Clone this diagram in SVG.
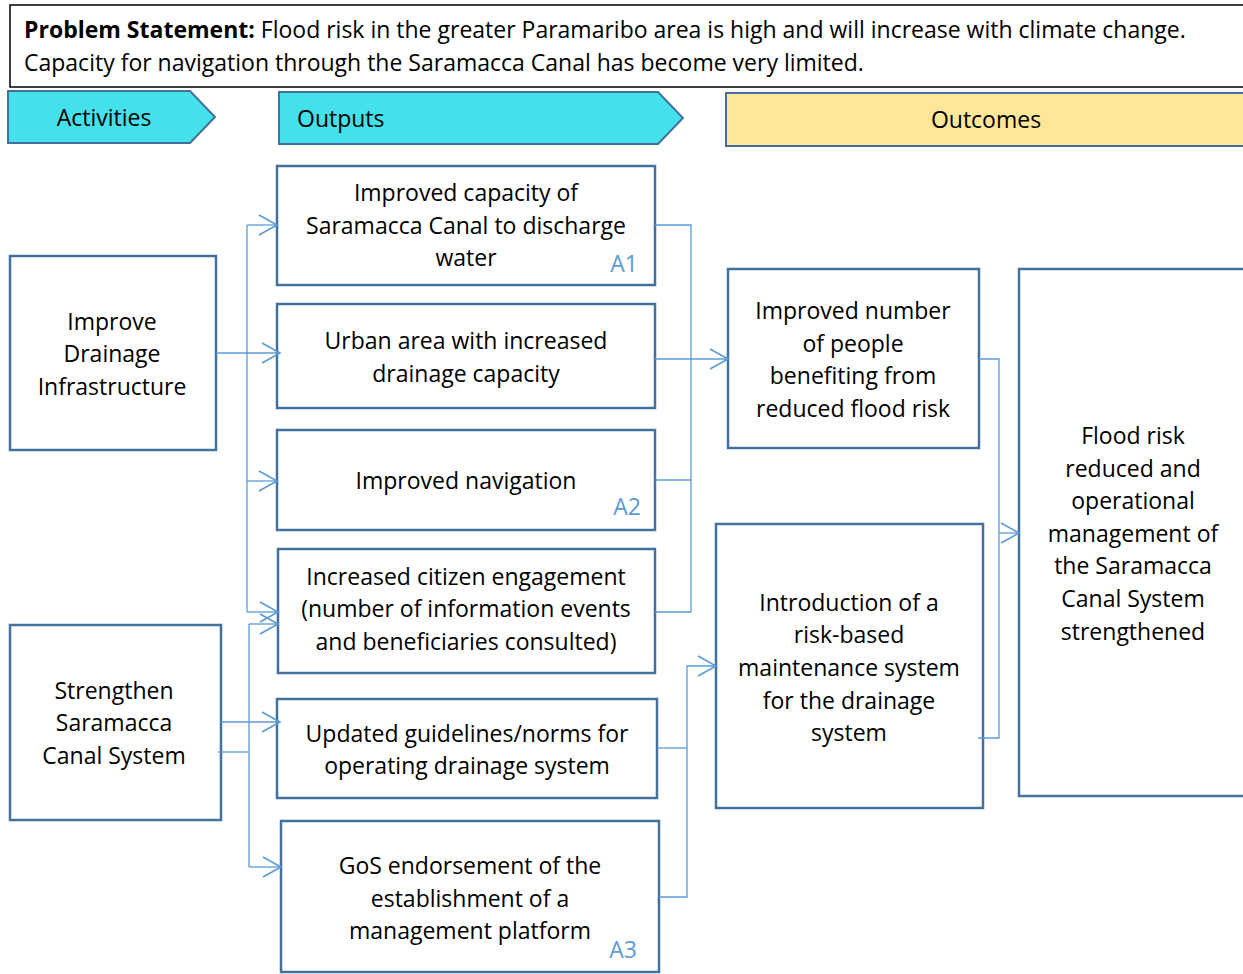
<svg xmlns="http://www.w3.org/2000/svg" width="1243" height="974" viewBox="0 0 1243 974">
  <style>
    text { font-family: "Open Sans", "Liberation Sans", Arial, sans-serif; font-size: 23px; fill: #000; }
    .c { text-anchor: middle; }
    .tag { fill: #5B9BD5; text-anchor: end; }
    .box { fill: #fff; stroke: #41719C; stroke-width: 2.5; }
    .band { fill: #45E1EB; stroke: #41719C; stroke-width: 2; }
    .link { fill: none; stroke: #5B9BD5; stroke-width: 1.3; }
  </style>
  <defs>
    <marker id="open" markerUnits="userSpaceOnUse" markerWidth="24" markerHeight="24" viewBox="-20 -12 24 24" refX="0" refY="0" orient="auto">
      <path d="M-18,-10 L0,0 L-18,10" fill="none" stroke="#5B9BD5" stroke-width="1.6"/>
    </marker>
  </defs>
  <rect width="1243" height="974" fill="#fff"/>

  <!-- header -->
  <g id="problem">
    <rect x="10" y="5" width="1240" height="82" fill="#fff" stroke="#000" stroke-width="1.5"/>
    <text x="24" y="38"><tspan font-weight="bold">Problem Statement:</tspan> Flood risk in the greater Paramaribo area is high and will increase with climate change.</text>
    <text x="24" y="71">Capacity for navigation through the Saramacca Canal has become very limited.</text>
  </g>
  <g id="hdr-activities">
    <path class="band" d="M8,91 H190 L215,117 L190,143 H8 Z"/>
    <text class="c" x="104" y="126">Activities</text>
  </g>
  <g id="hdr-outputs">
    <path class="band" d="M279,92 H658 L683,118 L658,144 H279 Z"/>
    <text x="297" y="127">Outputs</text>
  </g>
  <g id="hdr-outcomes">
    <rect x="726" y="93" width="530" height="53" fill="#FFE699" stroke="#41719C" stroke-width="2"/>
    <text class="c" x="986" y="128">Outcomes</text>
  </g>

  <!-- activities -->
  <g id="act-drainage">
    <rect class="box" x="10" y="256" width="206" height="194"/>
    <text class="c" x="112" y="330">Improve</text>
    <text class="c" x="112" y="362">Drainage</text>
    <text class="c" x="112" y="395">Infrastructure</text>
  </g>
  <g id="act-canal">
    <rect class="box" x="10" y="625" width="211" height="195"/>
    <text class="c" x="114" y="699">Strengthen</text>
    <text class="c" x="114" y="731">Saramacca</text>
    <text class="c" x="114" y="764">Canal System</text>
  </g>

  <!-- outputs -->
  <g id="out-discharge">
    <rect class="box" x="277" y="166" width="378" height="119"/>
    <text class="c" x="466" y="201">Improved capacity of</text>
    <text class="c" x="466" y="234">Saramacca Canal to discharge</text>
    <text class="c" x="466" y="266">water</text>
    <text class="tag" x="638" y="272">A1</text>
  </g>
  <g id="out-urban">
    <rect class="box" x="277" y="304" width="378" height="104"/>
    <text class="c" x="466" y="349">Urban area with increased</text>
    <text class="c" x="466" y="382">drainage capacity</text>
  </g>
  <g id="out-navigation">
    <rect class="box" x="277" y="430" width="378" height="100"/>
    <text class="c" x="466" y="489">Improved navigation</text>
    <text class="tag" x="641" y="515">A2</text>
  </g>
  <g id="out-engagement">
    <rect class="box" x="278" y="549" width="377" height="124"/>
    <text class="c" x="466" y="585">Increased citizen engagement</text>
    <text class="c" x="466" y="617">(number of information events</text>
    <text class="c" x="466" y="650">and beneficiaries consulted)</text>
  </g>
  <g id="out-guidelines">
    <rect class="box" x="277" y="699" width="380" height="99"/>
    <text class="c" x="467" y="742">Updated guidelines/norms for</text>
    <text class="c" x="467" y="774">operating drainage system</text>
  </g>
  <g id="out-platform">
    <rect class="box" x="281" y="821" width="378" height="151"/>
    <text class="c" x="470" y="874">GoS endorsement of the</text>
    <text class="c" x="470" y="907">establishment of a</text>
    <text class="c" x="470" y="939">management platform</text>
    <text class="tag" x="637" y="958">A3</text>
  </g>

  <!-- outcomes -->
  <g id="oc-people">
    <rect class="box" x="728" y="269" width="251" height="179"/>
    <text class="c" x="853" y="319">Improved number</text>
    <text class="c" x="853" y="352">of people</text>
    <text class="c" x="853" y="384">benefiting from</text>
    <text class="c" x="853" y="417">reduced flood risk</text>
  </g>
  <g id="oc-maintenance">
    <rect class="box" x="716" y="524" width="267" height="284"/>
    <text class="c" x="849" y="611">Introduction of a</text>
    <text class="c" x="849" y="643">risk-based</text>
    <text class="c" x="849" y="676">maintenance system</text>
    <text class="c" x="849" y="709">for the drainage</text>
    <text class="c" x="849" y="741">system</text>
  </g>
  <g id="oc-final">
    <rect class="box" x="1019" y="269" width="240" height="527"/>
    <text class="c" x="1133" y="444">Flood risk</text>
    <text class="c" x="1133" y="477">reduced and</text>
    <text class="c" x="1133" y="509">operational</text>
    <text class="c" x="1133" y="542">management of</text>
    <text class="c" x="1133" y="574">the Saramacca</text>
    <text class="c" x="1133" y="607">Canal System</text>
    <text class="c" x="1133" y="640">strengthened</text>
  </g>

  <!-- connectors -->
  <g id="connectors">
    <!-- drainage activity to its outputs -->
    <path class="link" d="M216,353 H280" marker-end="url(#open)"/>
    <path class="link" d="M247,225 V612"/>
    <path class="link" d="M247,225 H277" marker-end="url(#open)"/>
    <path class="link" d="M247,481 H277" marker-end="url(#open)"/>
    <path class="link" d="M247,612 H278" marker-end="url(#open)"/>
    <!-- canal activity to its outputs -->
    <path class="link" d="M221,722 H280" marker-end="url(#open)"/>
    <path class="link" d="M218,752 H249"/>
    <path class="link" d="M249,624 V867"/>
    <path class="link" d="M249,624 H278" marker-end="url(#open)"/>
    <path class="link" d="M249,867 H281" marker-end="url(#open)"/>
    <!-- outputs to first outcome -->
    <path class="link" d="M655,225 H691 V612 H655"/>
    <path class="link" d="M655,480 H691"/>
    <path class="link" d="M655,359 H728" marker-end="url(#open)"/>
    <!-- outputs to maintenance outcome -->
    <path class="link" d="M657,748 H687"/>
    <path class="link" d="M659,897 H687 V666 H716" marker-end="url(#open)"/>
    <!-- outcomes to final outcome -->
    <path class="link" d="M979,359 H999 V738 H978"/>
    <path class="link" d="M999,533 H1019" marker-end="url(#open)"/>
  </g>
</svg>
